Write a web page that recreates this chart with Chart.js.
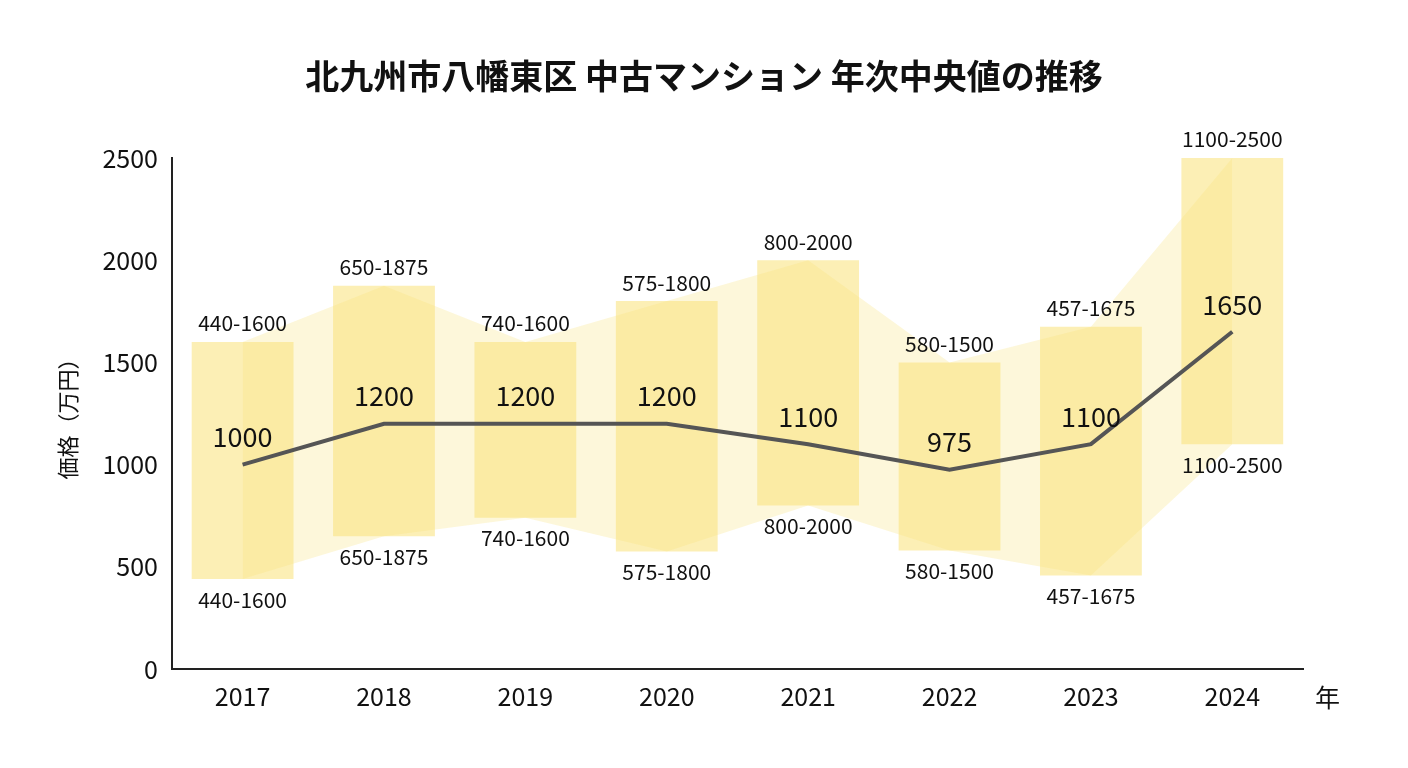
<!DOCTYPE html>
<html><head><meta charset="utf-8">
<script src="https://cdn.jsdelivr.net/npm/chart.js@4"></script>
<style>html,body{margin:0;background:#fff}#w{width:1408px;height:768px}</style>
</head><body><div id="w"><canvas id="c"></canvas></div>
<script>
const years=['2017','2018','2019','2020','2021','2022','2023','2024'];
const lows=[440,650,740,575,800,580,457,1100];
const highs=[1600,1875,1600,1800,2000,1500,1675,2500];
const medians=[1000,1200,1200,1200,1100,975,1100,1650];
const yTicks=[0,500,1000,1500,2000,2500];
const F='"Noto Sans CJK JP","Noto Sans",sans-serif';
const labels={id:'lbl',afterDatasetsDraw(c){
  const ctx=c.ctx,x=c.scales.x,y=c.scales.y;
  ctx.save();ctx.textAlign='center';ctx.fillStyle='#111';
  ctx.font='bold 34px '+F;ctx.textBaseline='middle';
  ctx.fillText('北九州市八幡東区 中古マンション 年次中央値の推移',704,76);
  years.forEach((yr,i)=>{
    const px=x.getPixelForValue(i);
    const t=lows[i]+'-'+highs[i];
    ctx.font='21px '+F;ctx.textBaseline='bottom';
    ctx.fillText(t,px,y.getPixelForValue(highs[i])-8);
    ctx.textBaseline='top';
    ctx.fillText(t,px,y.getPixelForValue(lows[i])+10);
    ctx.font='27px '+F;ctx.textBaseline='bottom';
    ctx.fillText(medians[i],px,y.getPixelForValue(medians[i])-14);
  });
  ctx.font='25px '+F;ctx.textBaseline='middle';ctx.textAlign='left';
  ctx.fillText('年',x.right+12,y.bottom+28);
  ctx.restore();
}};
new Chart(document.getElementById('c'),{
  data:{labels:years,datasets:[
    {type:'line',data:medians,borderColor:'#555',borderWidth:4,pointRadius:0,tension:0,order:0},
    {type:'line',data:highs,borderWidth:0,pointRadius:0,fill:'+1',backgroundColor:'rgba(250,232,150,0.35)',order:3},
    {type:'line',data:lows,borderWidth:0,pointRadius:0,fill:false,order:3},
    {type:'bar',data:years.map((_,i)=>[lows[i],highs[i]]),backgroundColor:'rgba(250,225,120,0.55)',categoryPercentage:1,barPercentage:0.72,order:2}
  ]},
  options:{responsive:true,maintainAspectRatio:false,animation:false,
    layout:{padding:{left:50,right:105,top:158,bottom:45}},
    plugins:{legend:{display:false},tooltip:{enabled:false},title:{display:false}},
    scales:{
      x:{grid:{display:false,drawTicks:false},border:{color:'#222',width:2},ticks:{color:'#111',font:{family:F,size:25},padding:12}},
      y:{min:0,max:2500,afterBuildTicks:a=>{a.ticks=yTicks.map(v=>({value:v}))},grid:{display:false,drawTicks:false},border:{color:'#222',width:2},
        ticks:{color:'#111',font:{family:F,size:25},padding:14,callback:v=>String(v)},
        title:{display:true,text:'価格（万円）',color:'#111',font:{family:F,size:22},padding:{bottom:8}}}
    }},
  plugins:[labels]
});
</script></body></html>
